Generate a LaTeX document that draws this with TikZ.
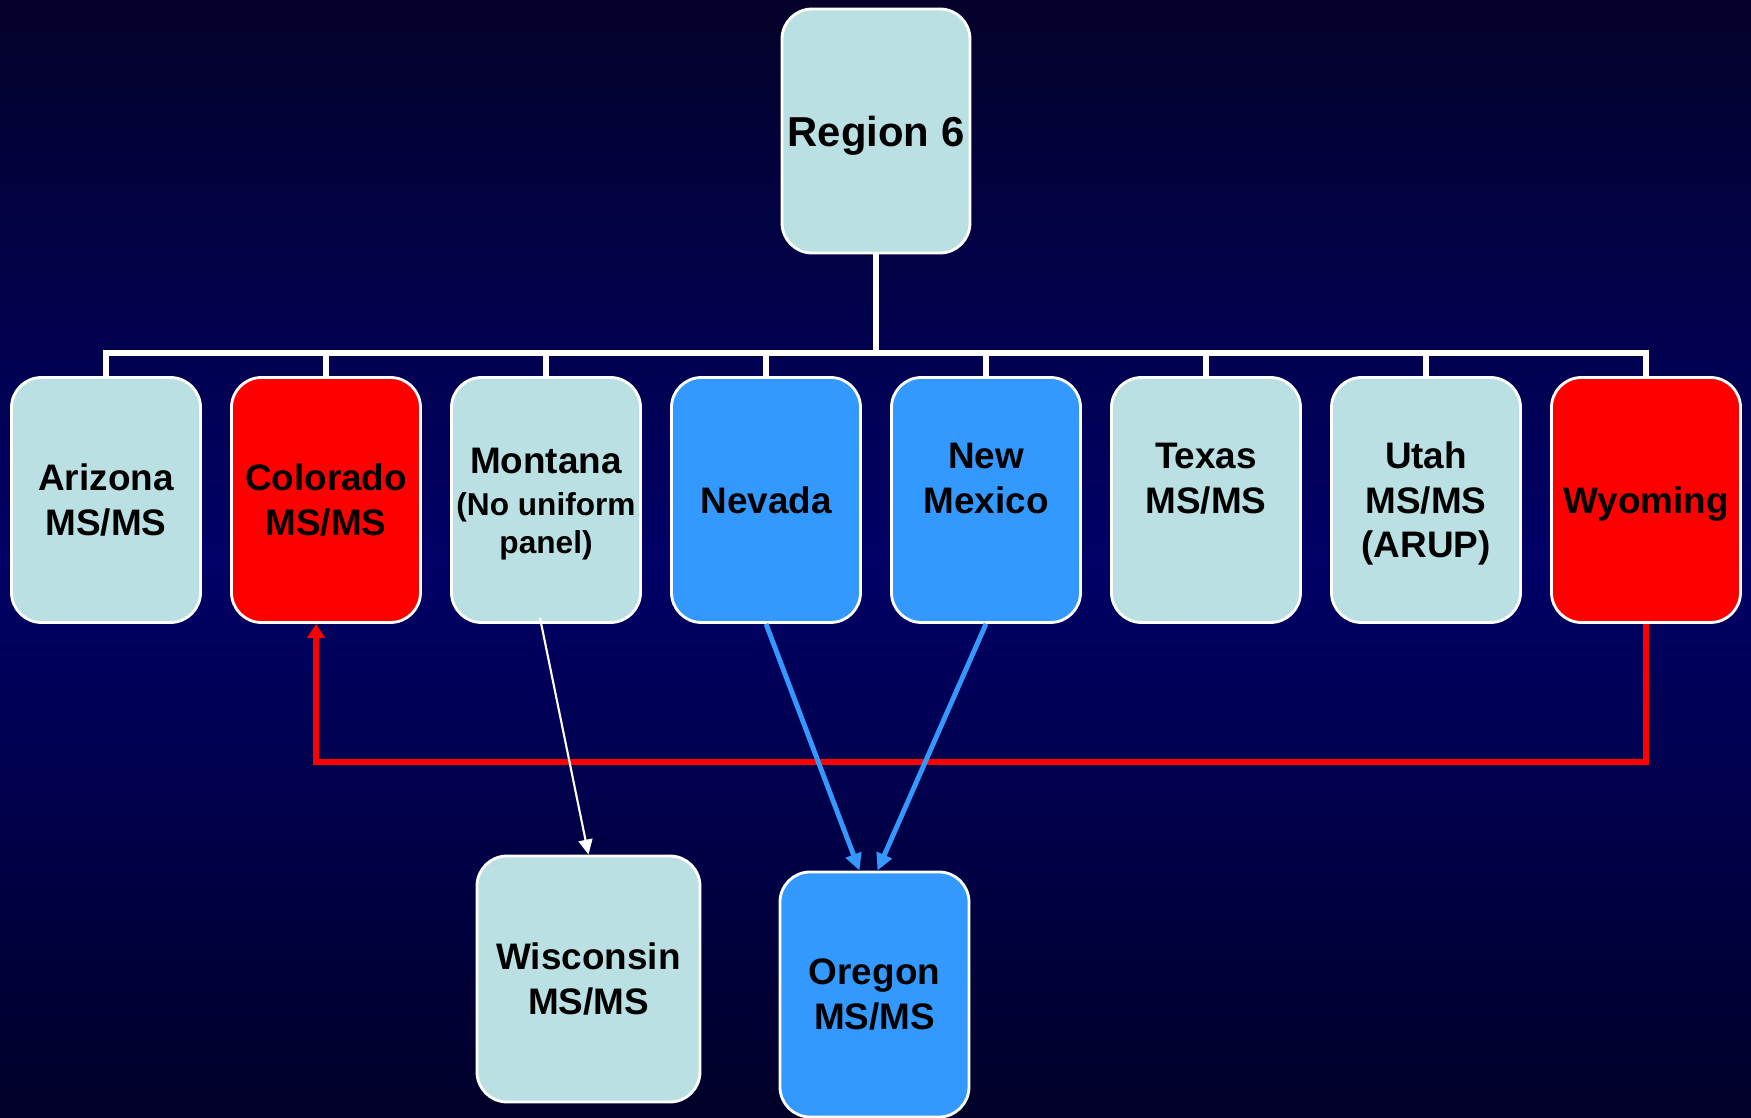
\documentclass[tikz,border=0pt]{standalone}
\usepackage{fontspec}
\setmainfont{Liberation Sans}
\usepackage{tikz}
\definecolor{paleteal}{RGB}{186,224,227}
\definecolor{skyblue}{RGB}{51,153,255}
\definecolor{brightred}{RGB}{255,0,0}
\definecolor{navytop}{RGB}{4,2,42}
\definecolor{navymid}{RGB}{0,0,102}
\definecolor{navybot}{RGB}{0,0,40}
\usetikzlibrary{arrows.meta}
\newcommand{\subtxt}{\fontsize{9pt}{9.4pt}\selectfont}
\newcommand{\topstrut}{\rule{0pt}{0.40cm}}

\begin{document}
\begin{tikzpicture}[
    state/.style={draw=white, line width=0.8pt, rounded corners=0.3cm, fill=paleteal,
        minimum width=1.89cm, minimum height=2.45cm, inner sep=0pt, align=center,
        font=\fontsize{10.5pt}{12.7pt}\selectfont\bfseries},
    bus/.style={white, line width=1.5pt},
    redlink/.style={brightred, line width=1.7pt, -{Triangle[length=0.14cm, width=0.17cm]}},
    bluelink/.style={skyblue, line width=1.4pt, -{Triangle[length=0.17cm, width=0.16cm]}},
    whitelink/.style={white, line width=0.6pt, -{Triangle[length=0.15cm, width=0.14cm]}}
]
    % Background
    \useasboundingbox (0,0) rectangle (17.51,-11.18);
    \shade[top color=navytop, bottom color=navybot, middle color=navymid] (0,0) rectangle (17.51,-11.18);

    % Top of the tree
    \node[state, minimum width=1.88cm, minimum height=2.44cm, text depth=0pt, font=\fontsize{11.9pt}{14pt}\selectfont\bfseries] (region) at (8.76,-1.31) {Region 6};

    % States in region 6
    \node[state] (arizona) at (1.06,-5.0) {Arizona\\MS/MS};
    \node[state, fill=brightred] (colorado) at (3.26,-5.0) {Colorado\\MS/MS};
    \node[state] (montana) at (5.46,-5.0) {\rule{0pt}{0.34cm}Montana\\[-0.026cm]\subtxt(No uniform\\[-0.07cm]\subtxt panel)};
    \node[state, fill=skyblue] (nevada) at (7.66,-5.0) {\topstrut\\Nevada\\\strut};
    \node[state, fill=skyblue] (newmexico) at (9.86,-5.0) {\topstrut New\\Mexico\\\strut};
    \node[state] (texas) at (12.06,-5.0) {\topstrut Texas\\MS/MS\\\strut};
    \node[state] (utah) at (14.26,-5.0) {\topstrut Utah\\MS/MS\\\strut(ARUP)};
    \node[state, fill=brightred] (wyoming) at (16.46,-5.0) {\topstrut\\Wyoming\\\strut};

    % Labs that take the screening
    \node[state, minimum width=2.23cm, minimum height=2.46cm] (wisconsin) at (5.885,-9.79) {Wisconsin\\MS/MS};
    \node[state, fill=skyblue] (oregon) at (8.745,-9.945) {Oregon\\MS/MS};

    % Tree connectors
    \coordinate (bus) at (8.76,-3.53);
    \draw[bus] (region.south) -- (bus);
    \draw[bus] (arizona.north) |- (bus);
    \draw[bus] (colorado.north) |- (bus);
    \draw[bus] (montana.north) |- (bus);
    \draw[bus] (nevada.north) |- (bus);
    \draw[bus] (newmexico.north) |- (bus);
    \draw[bus] (texas.north) |- (bus);
    \draw[bus] (utah.north) |- (bus);
    \draw[bus] (wyoming.north) |- (bus);

    % Referrals
    \draw[redlink] (wyoming.south) -- ++(0,-1.38) -| ([xshift=-1mm]colorado.south);
    \draw[bluelink] (nevada.south) -- ([xshift=-1.5mm]oregon.north);
    \draw[bluelink] (newmexico.south) -- ([xshift=0.3mm]oregon.north);
    \draw[whitelink] ([xshift=-0.6mm,yshift=0.6mm]montana.south) -- (wisconsin.north);
\end{tikzpicture}
\end{document}
